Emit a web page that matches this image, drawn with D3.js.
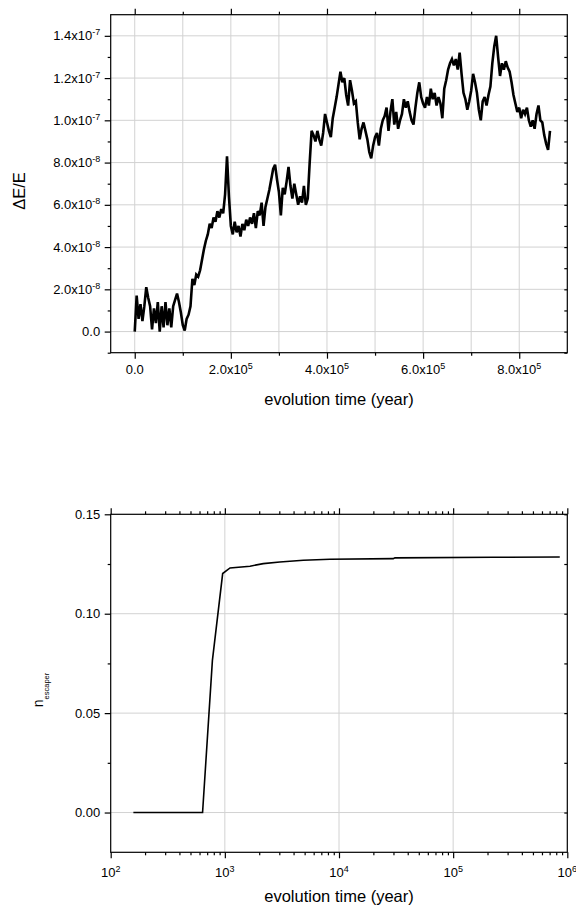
<!DOCTYPE html>
<html>
<head>
<meta charset="utf-8">
<script src="https://cdn.jsdelivr.net/npm/d3@7"></script>
<style>
  body { margin: 0; background: #fff; }
  svg { display: block; }
  text { font-family: "Liberation Sans", Arial, Helvetica, sans-serif; fill: #000; }
</style>
</head>
<body>
<svg id="chart" width="576" height="905"></svg>
<script>
// ---- Relative energy error, sampled every 4000 years (values in units of 1e-8) ----
const energyStepYears = 4000;
const energyError = [
  0.0, 1.7, 0.6, 1.3, 0.5, 1.2, 2.1, 1.6, 1.2, 0.1,
  1.1, 0.4, 1.4, 0.0, 1.2, 0.2, 1.4, 0.3, 1.1, 0.2,
  1.2, 1.5, 1.8, 1.4, 0.9, 0.3, 0.05, 0.6, 0.8, 1.2,
  2.5, 2.2, 2.7, 2.6, 2.9, 3.4, 3.9, 4.3, 4.6, 5.1,
  4.9, 5.4, 5.2, 5.7, 5.4, 5.8, 5.6, 6.5, 8.3, 6.4,
  5.0, 4.6, 5.2, 4.7, 5.0, 4.5, 5.1, 4.8, 5.3, 5.0,
  5.4, 5.1, 5.6, 4.9, 5.7, 5.5, 6.1, 5.0, 5.9, 6.3,
  6.7, 7.2, 7.7, 7.9, 7.2, 6.6, 5.5, 6.8, 6.5, 7.1,
  7.8, 6.9, 6.3, 7.0, 6.5, 6.0, 6.4, 6.1, 6.9, 6.0,
  6.3, 8.0, 9.5, 9.3, 9.0, 9.5, 9.1, 8.8, 9.4, 10.3,
  9.9, 9.5, 9.2, 10.1, 10.6, 11.1, 11.7, 12.3, 11.8, 12.0,
  11.2, 10.7, 11.9, 11.4, 10.8, 10.9, 9.9, 9.1, 9.6, 9.9,
  9.5, 9.1, 8.5, 8.2, 8.8, 9.2, 9.4, 8.8, 9.6, 10.0,
  10.2, 10.6, 9.5, 10.4, 11.0, 9.8, 10.4, 9.6, 10.0, 10.3,
  11.0, 10.6, 10.9, 10.4, 10.0, 9.8, 10.6, 11.3, 11.8, 11.1,
  10.8, 10.6, 11.1, 10.7, 11.5, 11.0, 11.3, 10.7, 11.1, 10.8,
  10.1, 11.5, 11.9, 12.4, 12.7, 12.9, 12.6, 12.9, 12.4, 13.2,
  12.2, 11.3, 11.0, 10.5, 10.9, 11.4, 12.2, 11.8, 11.3, 10.5,
  10.0, 10.9, 11.1, 10.7, 11.2, 11.6, 12.7, 13.5, 14.0, 13.0,
  12.1, 12.7, 12.4, 12.8, 12.5, 12.3, 11.8, 11.2, 10.8, 10.4,
  10.6, 10.1, 10.5, 10.3, 10.6, 10.0, 9.7, 10.0, 9.6, 10.3,
  10.7, 10.0, 9.9, 9.3, 8.9, 8.6, 9.5
];
const energyUnit = 1e-8;

const energyXTicks = [0, 2e5, 4e5, 6e5, 8e5];
const energyXTickLabels = ["0.0", "2.0x10^5", "4.0x10^5", "6.0x10^5", "8.0x10^5"];
const energyYTicks = [0, 2e-8, 4e-8, 6e-8, 8e-8, 1.0e-7, 1.2e-7, 1.4e-7];
const energyYTickLabels = ["0.0", "2.0x10^-8", "4.0x10^-8", "6.0x10^-8", "8.0x10^-8",
                           "1.0x10^-7", "1.2x10^-7", "1.4x10^-7"];

// ---- Fraction of escaping bodies versus time ----
const escapeTimes    = [158, 638, 778, 957, 1110, 1660, 2170, 3030, 4870, 8320, 29900, 30900, 224000, 859000];
const escapeFraction = [0, 0, 0.0765, 0.1202, 0.1230, 0.1239, 0.1252, 0.1260, 0.1269, 0.1274, 0.1277, 0.1281, 0.1284, 0.1285];

const escapeXTicks = [1e2, 1e3, 1e4, 1e5, 1e6];
const escapeXTickLabels = ["10^2", "10^3", "10^4", "10^5", "10^6"];
const escapeYTicks = [0, 0.05, 0.10, 0.15];
const escapeYTickLabels = ["0.00", "0.05", "0.10", "0.15"];

const xTitle = "evolution time (year)";

// ------------------------------------------------------------------
const svg = d3.select("#chart");
const GRID = "#d2d2d2";
const FRAME_W = 1.2;

function label(g, x, y, str, anchor) {
  const [base, sup] = str.split("^");
  const t = g.append("text").attr("x", x).attr("y", y)
    .attr("text-anchor", anchor).attr("font-size", 13);
  t.append("tspan").text(base);
  if (sup) t.append("tspan").attr("font-size", 9).attr("dy", -5).text(sup);
}

function tickRow(g, axisFn, scale, values, size, tx, ty) {
  g.append("g").attr("transform", `translate(${tx},${ty})`)
    .call(axisFn(scale).tickValues(values).tickSize(size).tickFormat(""))
    .call(s => s.select(".domain").remove())
    .call(s => s.selectAll("line").attr("stroke", "#000").attr("stroke-width", FRAME_W));
}

function panel(opt) {
  const { x, y, L, R, T, B } = opt;
  const g = svg.append("g");

  // grid
  g.append("g").selectAll("line").data(opt.xGrid).join("line")
    .attr("x1", d => x(d)).attr("x2", d => x(d)).attr("y1", T).attr("y2", B)
    .attr("stroke", GRID).attr("stroke-width", 1);
  g.append("g").selectAll("line").data(opt.yGrid).join("line")
    .attr("y1", d => y(d)).attr("y2", d => y(d)).attr("x1", L).attr("x2", R)
    .attr("stroke", GRID).attr("stroke-width", 1);

  // data line
  g.append("path").datum(opt.points)
    .attr("fill", "none").attr("stroke", "#000")
    .attr("stroke-width", opt.lineWidth).attr("stroke-linejoin", "miter")
    .attr("stroke-miterlimit", 3)
    .attr("d", d3.line().x(d => x(d[0])).y(d => y(d[1])));

  // frame
  g.append("rect").attr("x", L).attr("y", T).attr("width", R - L).attr("height", B - T)
    .attr("fill", "none").attr("stroke", "#000").attr("stroke-width", FRAME_W);

  // ticks: bottom/top outward, left outward, right inward
  tickRow(g, d3.axisBottom, x, opt.xMajor, 6, 0, B);
  tickRow(g, d3.axisBottom, x, opt.xMinor, 3, 0, B);
  tickRow(g, d3.axisTop, x, opt.xMajor, 6, 0, T);
  tickRow(g, d3.axisTop, x, opt.xMinor, 3, 0, T);
  tickRow(g, d3.axisLeft, y, opt.yMajor, 6, L, 0);
  tickRow(g, d3.axisLeft, y, opt.yMinor, 3, L, 0);
  tickRow(g, d3.axisRight, y, opt.yMajor.concat(opt.yMinor), -3, R, 0);

  // tick labels
  opt.xLabelTicks.forEach((v, i) => label(g, x(v), B + opt.xLabelOffset, opt.xLabels[i], "middle"));
  opt.yLabelTicks.forEach((v, i) => label(g, L - 10.5, y(v) + 4.5, opt.yLabels[i], "end"));

  // x title
  g.append("text").attr("x", (L + R) / 2).attr("y", B + opt.titleOffset)
    .attr("text-anchor", "middle").attr("font-size", 16.5).text(xTitle);
  return g;
}

// ---- upper panel: energy error ----
{
  const L = 110.7, R = 567.3, T = 14.7, B = 352.7;
  const x = d3.scaleLinear().domain([-5e4, 9e5]).range([L, R]);
  const y = d3.scaleLinear().domain([-1e-8, 1.5e-7]).range([B, T]);
  const points = energyError.map((v, i) => [i * energyStepYears, v * energyUnit]);
  const every1e5 = d3.range(0, 9e5, 1e5);
  const every1e8 = d3.range(-1, 15).map(k => k * 1e-8);
  const g = panel({
    x, y, L, R, T, B, points, lineWidth: 2.6,
    xGrid: every1e5, yGrid: energyYTicks,
    xMajor: energyXTicks, xMinor: every1e5.filter((d, i) => i % 2 === 1),
    yMajor: energyYTicks, yMinor: every1e8.filter(d => !energyYTicks.some(t => Math.abs(t - d) < 1e-12)),
    xLabelTicks: energyXTicks, xLabels: energyXTickLabels, xLabelOffset: 21.3,
    yLabelTicks: energyYTicks, yLabels: energyYTickLabels,
    titleOffset: 52.3
  });
  g.append("text").attr("transform", `translate(25,191) rotate(-90)`)
    .attr("text-anchor", "middle").attr("font-size", 16.5).text("\u0394E/E");
}

// ---- lower panel: escapers ----
{
  const L = 110.7, R = 567.3, T = 514.3, B = 852.3;
  const x = d3.scaleLog().domain([1e2, 1e6]).range([L, R]);
  const y = d3.scaleLinear().domain([-0.02, 0.15]).range([B, T]);
  const points = escapeTimes.map((t, i) => [t, escapeFraction[i]]);
  const minorLog = [];
  [2, 3, 4, 5].forEach(e => d3.range(2, 10).forEach(m => minorLog.push(m * Math.pow(10, e))));
  const g = panel({
    x, y, L, R, T, B, points, lineWidth: 1.6,
    xGrid: [1e3, 1e4, 1e5], yGrid: [0, 0.05, 0.10],
    xMajor: escapeXTicks, xMinor: minorLog,
    yMajor: escapeYTicks, yMinor: [0.025, 0.075, 0.125],
    xLabelTicks: escapeXTicks, xLabels: escapeXTickLabels, xLabelOffset: 25,
    yLabelTicks: escapeYTicks, yLabels: escapeYTickLabels,
    titleOffset: 49.5
  });
  const t = g.append("text").attr("transform", `translate(43,690) rotate(-90)`)
    .attr("text-anchor", "middle").attr("font-size", 14);
  t.append("tspan").text("n");
  t.append("tspan").attr("font-size", 7.5).attr("dy", 6).text("escaper");
}
</script>
</body>
</html>
